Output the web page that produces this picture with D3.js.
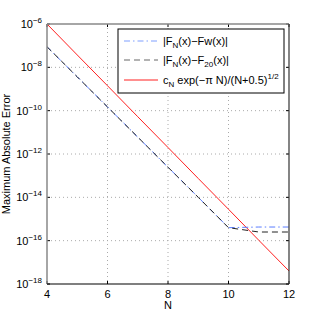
<!DOCTYPE html>
<html>
<head>
<meta charset="utf-8">
<script src="https://cdn.jsdelivr.net/npm/d3@7"></script>
<style>
body { margin: 0; background: #fff; }
svg text { font-family: "Liberation Sans", Arial, sans-serif; fill: #000; }
</style>
</head>
<body>
<div id="chart"></div>
<script>
// values (log10 of the error)
var nValues = [4, 5, 6, 7, 8, 9, 10, 11, 12];
var errFw   = [-7.05, -8.44, -9.83, -11.22, -12.61, -14.0, -15.4, -15.37, -15.37];
var errF20  = [-7.05, -8.44, -9.83, -11.22, -12.61, -14.0, -15.4, -15.6, -15.6];
var errBound = [-6.0, -7.43, -8.85, -10.28, -11.7, -13.13, -14.55, -15.98, -17.4];
var xTicks = [4, 6, 8, 10, 12];
var yTicks = [-6, -8, -10, -12, -14, -16, -18];

var width = 319, height = 320;
var margin = {top: 24, right: 30, bottom: 36, left: 47};
var w = width - margin.left - margin.right;
var h = height - margin.top - margin.bottom;

var svg = d3.select("#chart").append("svg")
	.attr("width", width)
	.attr("height", height);

var g = svg.append("g")
	.attr("transform", "translate(" + margin.left + "," + margin.top + ")");

var x = d3.scaleLinear().domain([4, 12]).range([0, w]);
var y = d3.scaleLog().domain([1e-18, 1e-6]).range([h, 0]);

//grid
g.selectAll(".vgrid")
	.data(xTicks.slice(1, -1))
	.enter().append("line")
	.attr("x1", function(d) { return x(d); })
	.attr("x2", function(d) { return x(d); })
	.attr("y1", 0).attr("y2", h)
	.style("stroke", "#aaa").style("stroke-width", 1)
	.style("stroke-dasharray", "1,3");

g.selectAll(".hgrid")
	.data(yTicks.slice(1, -1))
	.enter().append("line")
	.attr("x1", 0).attr("x2", w)
	.attr("y1", function(d) { return y(Math.pow(10, d)); })
	.attr("y2", function(d) { return y(Math.pow(10, d)); })
	.style("stroke", "#aaa").style("stroke-width", 1)
	.style("stroke-dasharray", "1,3");

//tick marks (inward)
xTicks.forEach(function(t) {
	g.append("line").attr("x1", x(t)).attr("x2", x(t)).attr("y1", h).attr("y2", h - 3).style("stroke", "#000");
	g.append("line").attr("x1", x(t)).attr("x2", x(t)).attr("y1", 0).attr("y2", 3).style("stroke", "#000");
});
yTicks.forEach(function(t) {
	var yy = y(Math.pow(10, t));
	g.append("line").attr("x1", 0).attr("x2", 3).attr("y1", yy).attr("y2", yy).style("stroke", "#000");
	g.append("line").attr("x1", w).attr("x2", w - 3).attr("y1", yy).attr("y2", yy).style("stroke", "#000");
});

//lines
var line = d3.line()
	.x(function(d) { return x(d[0]); })
	.y(function(d) { return y(Math.pow(10, d[1])); });

function pairs(vals) { return nValues.map(function(n, i) { return [n, vals[i]]; }); }

g.append("path").datum(pairs(errBound)).attr("d", line)
	.style("fill", "none").style("stroke", "#ff2020").style("stroke-width", 1);
g.append("path").datum(pairs(errFw)).attr("d", line)
	.style("fill", "none").style("stroke", "#5a7dff").style("stroke-width", 1)
	.style("stroke-dasharray", "6,3,1.5,3");
g.append("path").datum(pairs(errF20)).attr("d", line)
	.style("fill", "none").style("stroke", "#222").style("stroke-width", 1)
	.style("stroke-dasharray", "6,4");

//axes box
g.append("line").attr("x1", 0).attr("x2", w).attr("y1", 0).attr("y2", 0).style("stroke", "#888").style("stroke-width", 1.5);
g.append("line").attr("x1", 0).attr("x2", 0).attr("y1", 0).attr("y2", h).style("stroke", "#888").style("stroke-width", 1.5);
g.append("line").attr("x1", 0).attr("x2", w).attr("y1", h).attr("y2", h).style("stroke", "#000").style("stroke-width", 1.2);
g.append("line").attr("x1", w).attr("x2", w).attr("y1", 0).attr("y2", h).style("stroke", "#333").style("stroke-width", 1.2);

//tick labels
g.selectAll(".xlab")
	.data(xTicks)
	.enter().append("text")
	.attr("x", function(d) { return x(d); })
	.attr("y", h + 14)
	.attr("text-anchor", "middle")
	.style("font-size", "11px")
	.text(function(d) { return d; });

var ylab = g.selectAll(".ylab")
	.data(yTicks)
	.enter().append("text")
	.attr("x", -5)
	.attr("y", function(d) { return y(Math.pow(10, d)) + 4; })
	.attr("text-anchor", "end")
	.style("font-size", "11px");
ylab.append("tspan").text("10");
ylab.append("tspan").attr("dy", -5).style("font-size", "8px")
	.text(function(d) { return "\u2212" + Math.abs(d); });

//axis titles
svg.append("text")
	.attr("x", margin.left + x(8))
	.attr("y", 309)
	.attr("text-anchor", "middle")
	.style("font-size", "11px")
	.text("N");

svg.append("text")
	.attr("transform", "translate(10," + (margin.top + h / 2) + ") rotate(-90)")
	.attr("text-anchor", "middle")
	.style("font-size", "11px")
	.text("Maximum Absolute Error");

//legend
var legend = svg.append("g").attr("transform", "translate(118,29)");
legend.append("rect")
	.attr("width", 166).attr("height", 64)
	.style("fill", "#fff").style("stroke", "#000").style("stroke-width", 1);

var legendItems = [
	{color: "#7f9fff", dash: "6,3,1.5,3", y: 12},
	{color: "#666", dash: "6,4", y: 31},
	{color: "#ff2020", dash: null, y: 51}
];
legendItems.forEach(function(d) {
	legend.append("line")
		.attr("x1", 6).attr("x2", 40).attr("y1", d.y).attr("y2", d.y)
		.style("stroke", d.color).style("stroke-width", 1)
		.style("stroke-dasharray", d.dash);
});

var t1 = legend.append("text").attr("x", 45).attr("y", 16).style("font-size", "11px");
t1.append("tspan").text("|F");
t1.append("tspan").attr("dy", 3).style("font-size", "8px").text("N");
t1.append("tspan").attr("dy", -3).text("(x)\u2212Fw(x)|");

var t2 = legend.append("text").attr("x", 45).attr("y", 35).style("font-size", "11px");
t2.append("tspan").text("|F");
t2.append("tspan").attr("dy", 3).style("font-size", "8px").text("N");
t2.append("tspan").attr("dy", -3).text("(x)\u2212F");
t2.append("tspan").attr("dy", 3).style("font-size", "8px").text("20");
t2.append("tspan").attr("dy", -3).text("(x)|");

var t3 = legend.append("text").attr("x", 45).attr("y", 55).style("font-size", "11px");
t3.append("tspan").text("c");
t3.append("tspan").attr("dy", 3).style("font-size", "8px").text("N");
t3.append("tspan").attr("dy", -3).text(" exp(\u2212\u03c0 N)/(N+0.5)");
t3.append("tspan").attr("dy", -5).style("font-size", "8px").text("1/2");
</script>
</body>
</html>
